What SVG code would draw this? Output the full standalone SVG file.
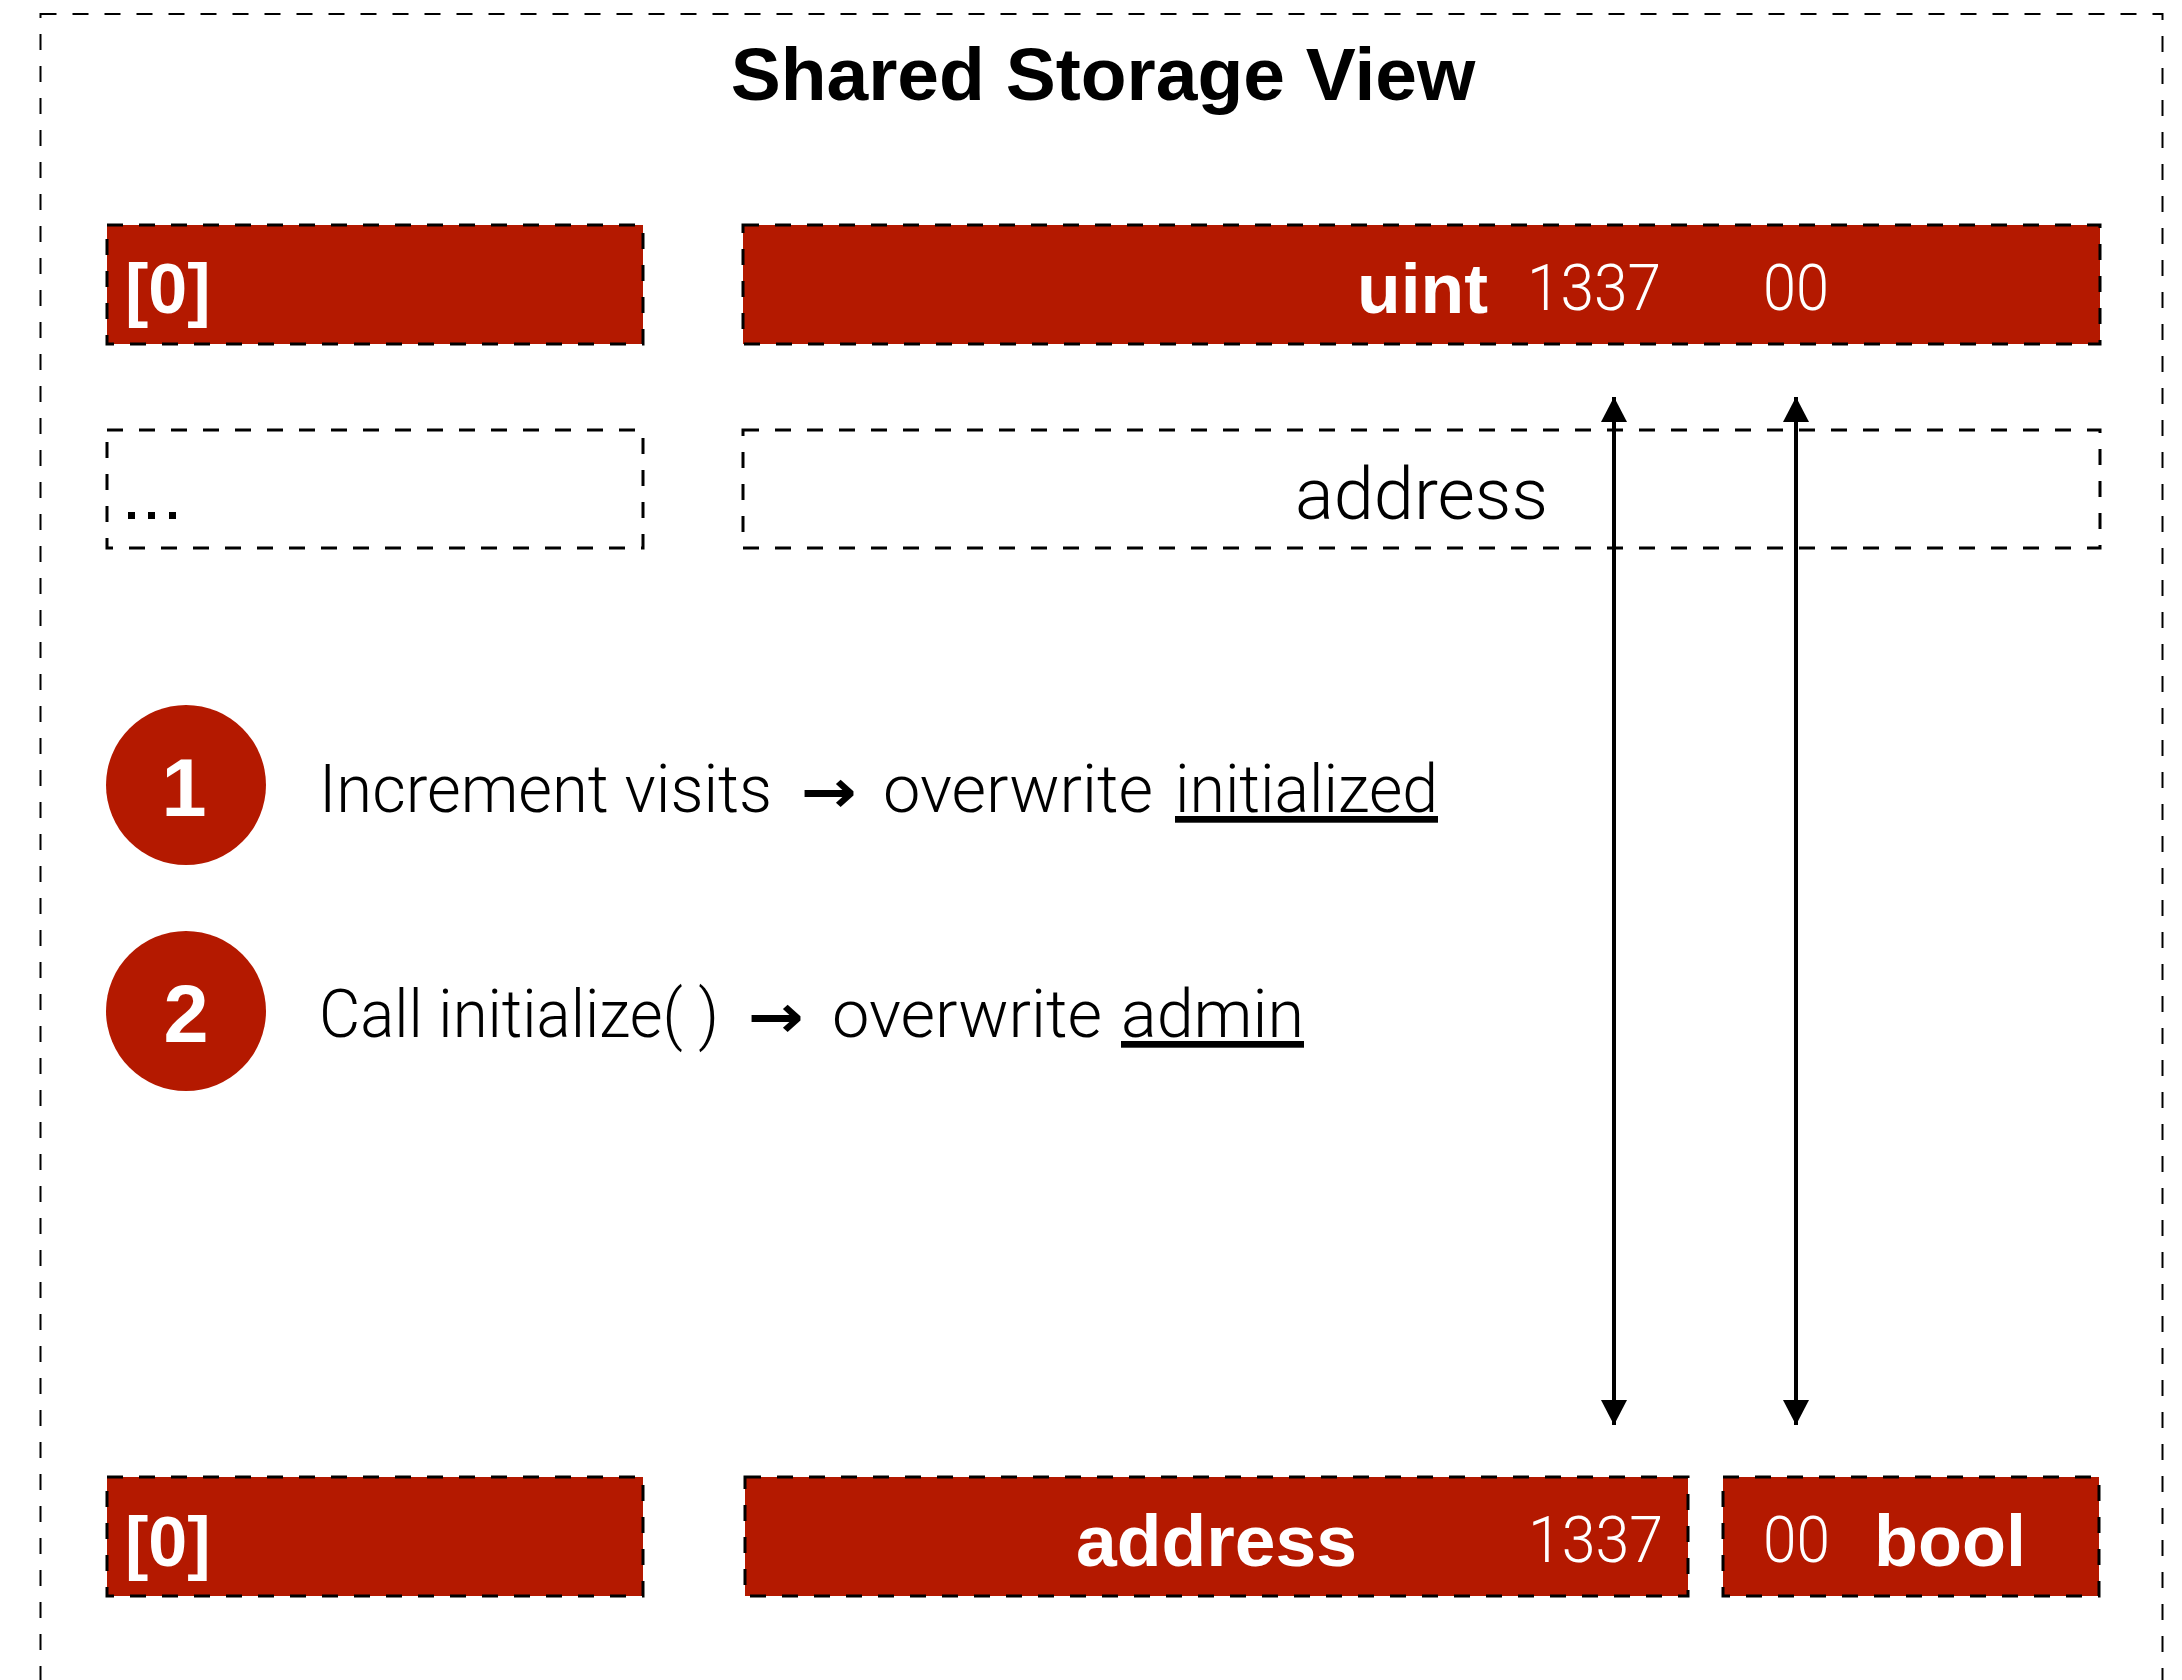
<svg xmlns="http://www.w3.org/2000/svg" width="2182" height="1680" viewBox="0 0 2182 1680">
<style>
.frame{fill:none;stroke:#000;stroke-width:2;stroke-dasharray:16 16}
.slot{fill:#B41900;stroke:#000;stroke-width:3;stroke-dasharray:16 16}
.empty{fill:none;stroke:#000;stroke-width:3;stroke-dasharray:16 16}
.b{font-family:"Liberation Sans",Arial,sans-serif;font-weight:bold}
.l{font-family:Roboto,"Liberation Sans",sans-serif;font-weight:300}
.arr{font-family:"DejaVu Sans",sans-serif;font-weight:bold}
.w{fill:#fff}
.k{fill:#000}
.conn{stroke:#000;stroke-width:4;fill:none}
.dot{fill:#B41900}
</style>
<defs>
<marker id="ah" markerUnits="userSpaceOnUse" markerWidth="26" markerHeight="26" refX="25" refY="13" orient="auto-start-reverse" viewBox="0 0 26 26">
<path d="M0,0 L25,13 L0,26 Z" fill="#000"/>
</marker>
</defs>
<rect class="frame" x="40.5" y="14" width="2122" height="1720"/>
<text class="b k" x="1103" y="100" font-size="75" text-anchor="middle">Shared Storage View</text>

<g id="top-index">
<rect class="slot" x="107" y="225" width="536" height="119"/>
<text class="b w" x="125" y="313" font-size="70">[0]</text>
</g>
<g id="top-slot">
<rect class="slot" x="743" y="225" width="1357" height="119"/>
<text class="b w" x="1357" y="313" font-size="70" textLength="131" lengthAdjust="spacingAndGlyphs">uint</text>
<text class="l w" x="1527" y="310" font-size="64" textLength="134" lengthAdjust="spacingAndGlyphs">1337</text>
<text class="l w" x="1763" y="310" font-size="64" textLength="66" lengthAdjust="spacingAndGlyphs">00</text>
</g>
<g id="row2-index">
<rect class="empty" x="107" y="430" width="536" height="118"/>
<rect class="k" x="128" y="512" width="7" height="7"/>
<rect class="k" x="148" y="512" width="7" height="7"/>
<rect class="k" x="169" y="512" width="7" height="7"/>
</g>
<g id="row2-slot">
<rect class="empty" x="743" y="430" width="1357" height="118"/>
<text class="l k" x="1295" y="519" font-size="72" textLength="253" lengthAdjust="spacingAndGlyphs">address</text>
</g>

<g id="step1">
<circle class="dot" cx="186" cy="785" r="80"/>
<text class="b w" x="184" y="816" font-size="81" text-anchor="middle">1</text>
<text class="l k" x="319" y="812" font-size="67"><tspan textLength="453" lengthAdjust="spacingAndGlyphs">Increment visits</tspan><tspan class="arr" x="801" y="812" font-size="60" textLength="56" lengthAdjust="spacingAndGlyphs">→</tspan><tspan x="883" y="812" textLength="270" lengthAdjust="spacingAndGlyphs">overwrite</tspan><tspan x="1175" y="812" text-decoration="underline" textLength="263" lengthAdjust="spacingAndGlyphs">initialized</tspan></text>
</g>
<g id="step2">
<circle class="dot" cx="186" cy="1011" r="80"/>
<text class="b w" x="186" y="1042" font-size="81" text-anchor="middle">2</text>
<text class="l k" x="319" y="1037" font-size="67"><tspan textLength="400" lengthAdjust="spacingAndGlyphs">Call initialize( )</tspan><tspan class="arr" x="748" y="1037" font-size="60" textLength="56" lengthAdjust="spacingAndGlyphs">→</tspan><tspan x="832" y="1037" textLength="270" lengthAdjust="spacingAndGlyphs">overwrite</tspan><tspan x="1121" y="1037" text-decoration="underline" textLength="183" lengthAdjust="spacingAndGlyphs">admin</tspan></text>
</g>

<g id="bottom-index">
<rect class="slot" x="107" y="1477" width="536" height="119"/>
<text class="b w" x="125" y="1566" font-size="70">[0]</text>
</g>
<g id="bottom-address">
<rect class="slot" x="745" y="1477" width="943" height="119"/>
<text class="b w" x="1076" y="1566" font-size="72" textLength="281" lengthAdjust="spacingAndGlyphs">address</text>
<text class="l w" x="1528" y="1562" font-size="64" textLength="135" lengthAdjust="spacingAndGlyphs">1337</text>
</g>
<g id="bottom-bool">
<rect class="slot" x="1723" y="1477" width="376" height="119"/>
<text class="l w" x="1763" y="1562" font-size="64" textLength="67" lengthAdjust="spacingAndGlyphs">00</text>
<text class="b w" x="1874" y="1566" font-size="72" textLength="152" lengthAdjust="spacingAndGlyphs">bool</text>
</g>

<g id="connectors">
<line class="conn" x1="1614" y1="397" x2="1614" y2="1425" marker-start="url(#ah)" marker-end="url(#ah)"/>
<line class="conn" x1="1796" y1="397" x2="1796" y2="1425" marker-start="url(#ah)" marker-end="url(#ah)"/>
</g>
</svg>
